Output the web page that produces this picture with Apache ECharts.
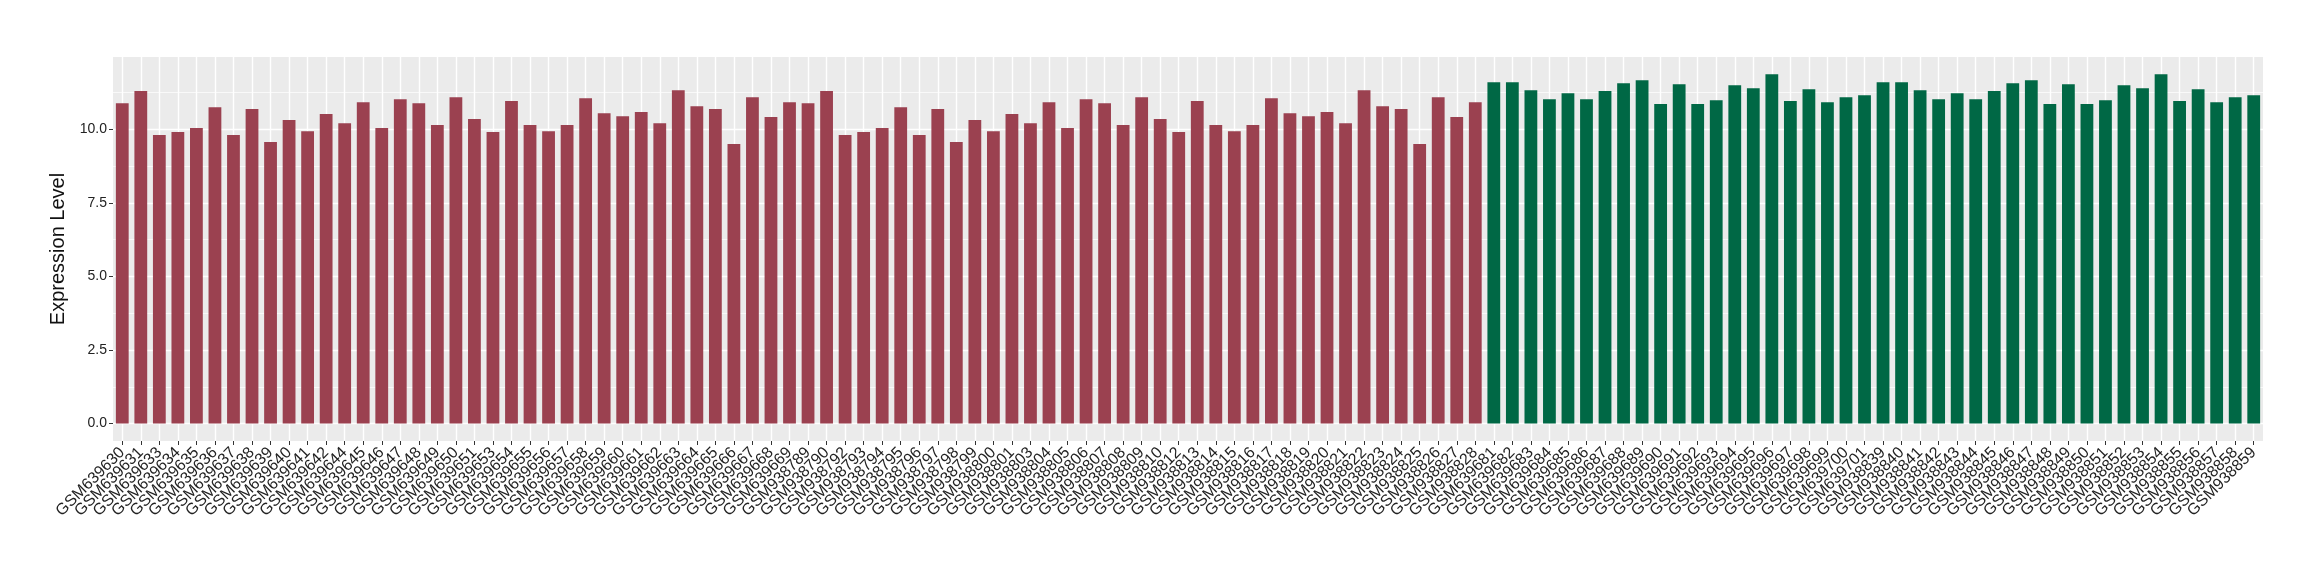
<!DOCTYPE html>
<html>
<head>
<meta charset="utf-8">
<script src="https://cdn.jsdelivr.net/npm/echarts@6/dist/echarts.min.js"></script>
<style>
html,body{margin:0;padding:0;background:#fff;}
#chart{width:2320px;height:580px;}
</style>
</head>
<body>
<div id="chart"></div>
<script>
// ---- data ----
const samplesGroup1 = [
  'GSM639630','GSM639631','GSM639633','GSM639634','GSM639635','GSM639636','GSM639637','GSM639638','GSM639639','GSM639640',
  'GSM639641','GSM639642','GSM639644','GSM639645','GSM639646','GSM639647','GSM639648','GSM639649','GSM639650','GSM639651',
  'GSM639653','GSM639654','GSM639655','GSM639656','GSM639657','GSM639658','GSM639659','GSM639660','GSM639661','GSM639662',
  'GSM639663','GSM639664','GSM639665','GSM639666','GSM639667','GSM639668','GSM639669',
  'GSM938789','GSM938790','GSM938792','GSM938793','GSM938794','GSM938795','GSM938796','GSM938797','GSM938798','GSM938799',
  'GSM938800','GSM938801','GSM938803','GSM938804','GSM938805','GSM938806','GSM938807','GSM938808','GSM938809','GSM938810',
  'GSM938812','GSM938813','GSM938814','GSM938815','GSM938816','GSM938817','GSM938818','GSM938819','GSM938820','GSM938821',
  'GSM938822','GSM938823','GSM938824','GSM938825','GSM938826','GSM938827','GSM938828'
];
const valuesGroup1 = [
  10.89, 11.30, 9.81, 9.91, 10.05, 10.75, 9.81, 10.69, 9.57, 10.32,
  9.94, 10.52, 10.21, 10.92, 10.05, 11.02, 10.89, 10.15, 11.09, 10.35,
  9.91, 10.96, 10.15, 9.94, 10.15, 11.06, 10.55, 10.45, 10.59, 10.21,
  11.33, 10.79, 10.69, 9.50, 11.09, 10.42, 10.92,
  10.89, 11.30, 9.81, 9.91, 10.05, 10.75, 9.81, 10.69, 9.57, 10.32,
  9.94, 10.52, 10.21, 10.92, 10.05, 11.02, 10.89, 10.15, 11.09, 10.35,
  9.91, 10.96, 10.15, 9.94, 10.15, 11.06, 10.55, 10.45, 10.59, 10.21,
  11.33, 10.79, 10.69, 9.50, 11.09, 10.42, 10.92
];
const samplesGroup2 = [
  'GSM639681','GSM639682','GSM639683','GSM639684','GSM639685','GSM639686','GSM639687','GSM639688','GSM639689','GSM639690',
  'GSM639691','GSM639692','GSM639693','GSM639694','GSM639695','GSM639696','GSM639697','GSM639698','GSM639699','GSM639700',
  'GSM639701',
  'GSM938839','GSM938840','GSM938841','GSM938842','GSM938843','GSM938844','GSM938845','GSM938846','GSM938847','GSM938848',
  'GSM938849','GSM938850','GSM938851','GSM938852','GSM938853','GSM938854','GSM938855','GSM938856','GSM938857','GSM938858',
  'GSM938859'
];
const valuesGroup2 = [
  11.60, 11.60, 11.33, 11.02, 11.23, 11.02, 11.30, 11.57, 11.67, 10.86,
  11.53, 10.86, 10.99, 11.50, 11.40, 11.87, 10.96, 11.36, 10.92, 11.09,
  11.16,
  11.60, 11.60, 11.33, 11.02, 11.23, 11.02, 11.30, 11.57, 11.67, 10.86,
  11.53, 10.86, 10.99, 11.50, 11.40, 11.87, 10.96, 11.36, 10.92, 11.09,
  11.16
];
const yMajorTicks = [0, 2.5, 5, 7.5, 10];
const yMinorTicks = [1.25, 3.75, 6.25, 8.75, 11.25];

// ---- build ----
const colorGroup1 = '#9b4150';
const colorGroup2 = '#006845';
const categories = samplesGroup1.concat(samplesGroup2);
const barData = valuesGroup1.map(v => ({value: v, itemStyle: {color: colorGroup1}}))
  .concat(valuesGroup2.map(v => ({value: v, itemStyle: {color: colorGroup2}})));

const gridLines = []
  .concat(yMinorTicks.map(v => ({yAxis: v, lineStyle: {color: '#ffffff', width: 0.7, type: 'solid'}})))
  .concat(yMajorTicks.map(v => ({yAxis: v, lineStyle: {color: '#ffffff', width: 1.4, type: 'solid'}})))
  .concat(categories.map(c => ({xAxis: c, lineStyle: {color: '#ffffff', width: 1.4, type: 'solid'}})));

const font = 'Liberation Sans';
const chart = echarts.init(document.getElementById('chart'), null, {renderer: 'canvas'});
chart.setOption({
  animation: false,
  backgroundColor: '#ffffff',
  textStyle: {fontFamily: font},
  grid: {
    left: 113, right: 57, top: 57, bottom: 139,
    show: true, backgroundColor: '#ebebeb', borderWidth: 0
  },
  xAxis: {
    type: 'category',
    data: categories,
    axisLine: {show: false, onZero: false},
    axisTick: {show: true, alignWithLabel: true, length: 4, lineStyle: {color: '#333333', width: 1}},
    axisLabel: {
      interval: 0, rotate: 45, margin: 9, hideOverlap: false,
      fontFamily: font, fontSize: 16, color: '#222222'
    },
    splitLine: {show: false}
  },
  yAxis: {
    type: 'value',
    min: -0.594, max: 12.46,
    name: 'Expression Level',
    nameLocation: 'middle',
    nameGap: 36,
    nameTextStyle: {fontFamily: font, fontSize: 20, color: '#111111'},
    axisLine: {show: false},
    axisTick: {show: true, length: 4, customValues: yMajorTicks, lineStyle: {color: '#333333', width: 1}},
    axisLabel: {
      customValues: yMajorTicks, margin: 6,
      fontFamily: font, fontSize: 14, color: '#222222',
      formatter: v => Number(v).toFixed(1)
    },
    splitLine: {show: false},
    minorSplitLine: {show: false}
  },
  series: [{
    type: 'bar',
    data: barData,
    barWidth: '69%',
    z: 2,
    markLine: {
      silent: true,
      z: 1,
      symbol: ['none', 'none'],
      label: {show: false},
      emphasis: {disabled: true},
      animation: false,
      data: gridLines
    }
  }]
});
</script>
</body>
</html>
